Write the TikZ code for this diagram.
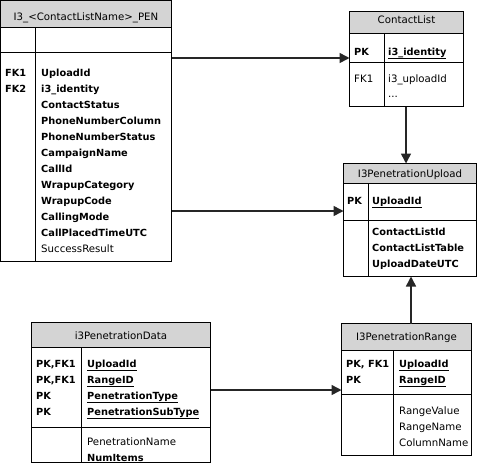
\documentclass[tikz,border=0pt]{standalone}
\usepackage{fontspec}
\setmainfont{DejaVu Sans}
\usetikzlibrary{arrows.meta}
\definecolor{hdrgray}{RGB}{212,212,212}
\newcommand{\rg}{\fontsize{10.2}{12}\selectfont}
\newcommand{\bd}{\fontsize{9.8}{12}\selectfont\bfseries}
\newcommand{\myul}[1]{\setbox0\hbox{#1}\rlap{\rule[-4pt]{\wd0}{0.8pt}}\box0}
\begin{document}
\begin{tikzpicture}[x=1pt,y=-1pt,
  box/.style={draw=black,line width=0.8pt,inner sep=0,outer sep=0,anchor=north west},
  hdr/.style={box,fill=hdrgray},
  sep/.style={draw=black,line width=0.8pt},
  lb/.style={inner sep=0,anchor=base west,font=\bd},
  lr/.style={inner sep=0,anchor=base west,font=\rg},
  ttl/.style={inner sep=0,anchor=base,font=\rg},
  conn/.style={draw=black!85,line width=1.5pt,-{Triangle[length=10pt,width=10pt]}}]
\useasboundingbox (0,0) rectangle (481,472);

% ---------- I3_<ContactListName>_PEN
\node[box,minimum width=171pt,minimum height=261pt] (pen) at (0.5,0.5) {};
\node[hdr,minimum width=171pt,minimum height=26.5pt] (penh) at (0.5,0.5) {};
\draw[sep] (0.5,52) -- (171.5,52);
\draw[sep] (35,27) -- (35,261.5);
\node[ttl] (pent) at (86,20) {I3\_<ContactListName>\_PEN};
\node[lb] (penk1) at (5,76) {FK1};
\node[lb] (penk2) at (5,92) {FK2};
\node[lb] (penf1) at (41,76) {UploadId};
\node[lb] (penf2) at (41,92) {i3\_identity};
\node[lb] (penf3) at (41,108) {ContactStatus};
\node[lb] (penf4) at (41,124) {PhoneNumberColumn};
\node[lb] (penf5) at (41,140) {PhoneNumberStatus};
\node[lb] (penf6) at (41,156) {CampaignName};
\node[lb] (penf7) at (41,172) {CallId};
\node[lb] (penf8) at (41,188) {WrapupCategory};
\node[lb] (penf9) at (41,204) {WrapupCode};
\node[lb] (penf10) at (41,220) {CallingMode};
\node[lb] (penf11) at (41,236) {CallPlacedTimeUTC};
\node[lr] (penf12) at (41,252) {SuccessResult};

% ---------- ContactList
\node[box,minimum width=114pt,minimum height=95pt] (cl) at (349.5,11.5) {};
\node[hdr,minimum width=114pt,minimum height=21.5pt] (clh) at (349.5,11.5) {};
\draw[sep] (349.5,62) -- (463.5,62);
\draw[sep] (384,33) -- (384,106.5);
\node[ttl] (clt) at (406.5,23) {ContactList};
\node[lb] (clk1) at (354,55) {PK};
\node[lb] (clf1) at (388,55) {\myul{i3\_identity}};
\node[lr] (clk2) at (354,82) {FK1};
\node[lr] (clf2) at (388,82) {i3\_uploadId};
\node[lr] (clf3) at (388,97) {...};

% ---------- I3PenetrationUpload
\node[box,minimum width=133pt,minimum height=113pt] (up) at (343.5,163.5) {};
\node[hdr,minimum width=133pt,minimum height=19.5pt] (uph) at (343.5,163.5) {};
\draw[sep] (343.5,220) -- (476.5,220);
\draw[sep] (368,183) -- (368,276.5);
\node[ttl] (upt) at (410,177) {I3PenetrationUpload};
\node[lb] (upk1) at (347,204) {PK};
\node[lb] (upf1) at (372,204) {\myul{UploadId}};
\node[lb] (upf2) at (372,235) {ContactListId};
\node[lb] (upf3) at (372,251) {ContactListTable};
\node[lb] (upf4) at (372,267) {UploadDateUTC};

% ---------- i3PenetrationData
\node[box,minimum width=179pt,minimum height=140pt] (dat) at (31.5,322.5) {};
\node[hdr,minimum width=179pt,minimum height=24.5pt] (dath) at (31.5,322.5) {};
\draw[sep] (31.5,427) -- (210.5,427);
\draw[sep] (81,347) -- (81,462.5);
\node[ttl] (datt) at (121,339) {i3PenetrationData};
\node[lb] (datk1) at (36,367) {PK,FK1};
\node[lb] (datk2) at (36,383) {PK,FK1};
\node[lb] (datk3) at (36,399) {PK};
\node[lb] (datk4) at (36,415) {PK};
\node[lb] (datf1) at (87,367) {\myul{UploadId}};
\node[lb] (datf2) at (87,383) {\myul{RangeID}};
\node[lb] (datf3) at (87,399) {\myul{PenetrationType}};
\node[lb] (datf4) at (87,415) {\myul{PenetrationSubType}};
\node[lr] (datf5) at (87,445) {PenetrationName};
\node[lb] (datf6) at (87,461) {NumItems};

% ---------- I3PenetrationRange
\node[box,minimum width=130pt,minimum height=132pt] (rng) at (341.5,323.5) {};
\node[hdr,minimum width=130pt,minimum height=26.5pt] (rngh) at (341.5,323.5) {};
\draw[sep] (341.5,394) -- (471.5,394);
\draw[sep] (393,350) -- (393,455.5);
\node[ttl] (rngt) at (406.5,340) {I3PenetrationRange};
\node[lb] (rngk1) at (346,367) {PK, FK1};
\node[lb] (rngk2) at (346,383) {PK};
\node[lb] (rngf1) at (399,367) {\myul{UploadId}};
\node[lb] (rngf2) at (399,383) {\myul{RangeID}};
\node[lr] (rngf3) at (399,414) {RangeValue};
\node[lr] (rngf4) at (399,430) {RangeName};
\node[lr] (rngf5) at (399,446) {ColumnName};

% ---------- connectors
\draw[conn] (pen.east |- 0,58) -- (cl.west |- 0,58);
\draw[conn] (pen.east |- 0,211) -- (up.west |- 0,211);
\draw[conn] (cl.south -| 406,0) -- (up.north -| 406,0);
\draw[conn] (dat.east |- 0,390) -- (rng.west |- 0,390);
\draw[conn] (rng.north -| 411,0) -- (up.south -| 411,0);
\end{tikzpicture}
\end{document}
